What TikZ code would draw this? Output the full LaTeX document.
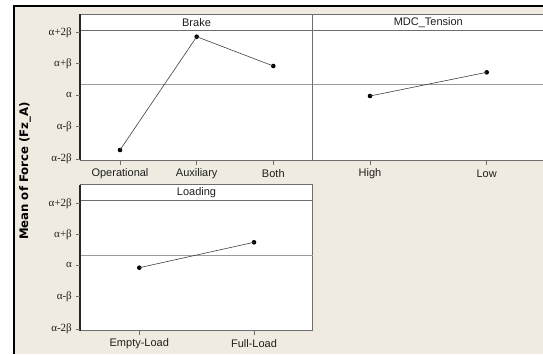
\documentclass[tikz,border=0pt]{standalone}
\usepackage{fontspec}
\newfontfamily\tah{Liberation Sans}
\newfontfamily\tahb{DejaVu Sans}
\newfontfamily\grk{Liberation Serif}
\definecolor{bgc}{HTML}{EFEBE0}
\definecolor{framec}{HTML}{6E6E6E}
\definecolor{refc}{HTML}{9A9A9A}
\definecolor{txtc}{HTML}{1E1E1E}
\begin{document}
\begin{tikzpicture}[x=1pt,y=-1pt,
  frame/.style={draw=framec, line width=0.9pt},
  axisl/.style={draw=black!85, line width=1.2pt},
  refline/.style={draw=refc, line width=0.9pt},
  hdrline/.style={draw=framec, line width=0.9pt},
  dataline/.style={draw=black!75, line width=0.6pt},
  pt/.style={circle, fill=black, inner sep=0pt, minimum size=4.6pt},
  ttl/.style={font=\tah\fontsize{11}{13}\selectfont, text=txtc, inner sep=0pt},
  xlab/.style={font=\tah\fontsize{11}{13}\selectfont, text=txtc, inner sep=0pt},
  ylab/.style={font=\grk\fontsize{11}{13}\selectfont, text=txtc, inner sep=0pt, anchor=east},
  tick/.style={draw=framec, line width=0.6pt}]
\useasboundingbox (0,0) rectangle (543,354);
\fill[white] (0,0) rectangle (543,354);
\fill[bgc] (13.7,5.5) rectangle (543,354);
\draw[black, line width=2pt] (13.7,354) -- (13.7,5.5) -- (543,5.5);

% Brake panel
\filldraw[frame, fill=white] (80,14) rectangle (312.7,160);
\draw[hdrline] (80,30.7) -- (312.7,30.7);
\draw[refline] (80,84.3) -- (312.7,84.3);
\draw[axisl] (80,14) -- (80,160);
\node[ttl] (tBrake) at (196.5,22.3) {Brake};
% MDC panel
\filldraw[frame, fill=white] (312.7,14) rectangle (546,160);
\draw[hdrline] (312.7,30.7) -- (546,30.7);
\draw[refline] (312.7,84.3) -- (546,84.3);
\draw[draw=framec, line width=1.1pt] (312.7,14) -- (312.7,160);
\node[ttl] (tMDC) at (428.3,22.3) {MDC\_Tension};
% Loading panel
\filldraw[frame, fill=white] (80,184.5) rectangle (312.7,330.7);
\draw[hdrline] (80,200.7) -- (312.7,200.7);
\draw[refline] (80,255) -- (312.7,255);
\draw[axisl] (80,184.5) -- (80,330.7);
\node[ttl] (tLoad) at (196.5,192.6) {Loading};

% Y ticks, Brake
\foreach \y/\t [count=\i] in {32.3/{α+2β},63.3/{α+β},95/{α},126.7/{α-β},159/{α-2β}}{
  \draw[tick] (75.5,\y) -- (80,\y);
  \node[ylab] (ya\i) at (72,\y) {\t};
}
% Y ticks, Loading
\foreach \y/\t [count=\i] in {203.3/{α+2β},234.3/{α+β},265/{α},296.7/{α-β},329/{α-2β}}{
  \draw[tick] (75.5,\y) -- (80,\y);
  \node[ylab] (yb\i) at (72,\y) {\t};
}

% X ticks and labels
\foreach \x/\t/\n in {120/Operational/op,196.7/Auxiliary/au,273.3/Both/bo,370/High/hi,486.7/Low/lo}{
  \draw[tick] (\x,160) -- (\x,164.5);
  \node[xlab] (x\n) at (\x,173.8) {\t};
}
\foreach \x/\t/\n in {139.3/Empty-Load/el,254/Full-Load/fl}{
  \draw[tick] (\x,330.7) -- (\x,335);
  \node[xlab] (x\n) at (\x,343.8) {\t};
}

% Data points
\node[pt] (pOp) at (120,150) {};
\node[pt] (pAu) at (196.7,36.7) {};
\node[pt] (pBo) at (273.3,66) {};
\node[pt] (pHi) at (370,96) {};
\node[pt] (pLo) at (486.7,72.3) {};
\node[pt] (pEl) at (139.3,267.7) {};
\node[pt] (pFl) at (254,242.3) {};
\draw[dataline] (pOp.center) -- (pAu.center) -- (pBo.center);
\draw[dataline] (pHi.center) -- (pLo.center);
\draw[dataline] (pEl.center) -- (pFl.center);

% Axis title
\node[font=\tahb\bfseries\fontsize{11.7}{13}\selectfont, text=black, rotate=90, inner sep=0pt] (ytitle) at (25,171) {Mean of Force (Fz\_A)};
\end{tikzpicture}
\end{document}
